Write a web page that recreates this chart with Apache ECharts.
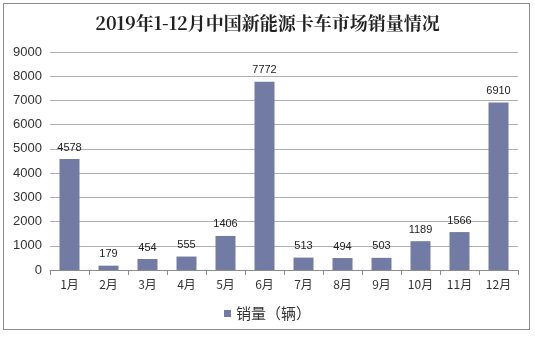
<!DOCTYPE html>
<html><head><meta charset="utf-8">
<script src="https://cdn.jsdelivr.net/npm/echarts@6/dist/echarts.min.js"></script>
<style>html,body{margin:0;padding:0;background:#fff}#c{width:535px;height:337px}
#frame{position:absolute;left:3px;top:3px;width:527px;height:327px;border:1px solid #8c8c8c;box-sizing:border-box;pointer-events:none}</style>
</head><body><div id="c"></div><div id="frame"></div>
<script>
const categories = ['1月','2月','3月','4月','5月','6月','7月','8月','9月','10月','11月','12月'];
const sales = [4578,179,454,555,1406,7772,513,494,503,1189,1566,6910];
const seriesName = '销量（辆）';
const chart = echarts.init(document.getElementById('c'));
chart.setOption({
  animation:false,
  title:{text:'2019年1-12月中国新能源卡车市场销量情况',left:'center',top:9,
    textStyle:{fontFamily:'Noto Serif CJK SC, Noto Sans CJK SC, serif',fontSize:18,fontWeight:'bold',color:'#222'}},
  grid:{left:50,right:17,top:52,bottom:67},
  legend:{bottom:11,left:'center',itemWidth:7,itemHeight:7,icon:'rect',itemGap:4,
    textStyle:{fontSize:15,color:'#333',fontFamily:'Noto Sans CJK SC'},data:[seriesName]},
  xAxis:{type:'category',data:categories,
    axisLine:{lineStyle:{color:'#8c8c8c'}},
    axisTick:{show:true,length:5,lineStyle:{color:'#8c8c8c'}},
    axisLabel:{fontSize:12,color:'#333',margin:8,fontFamily:'Noto Sans CJK SC'}},
  yAxis:{type:'value',min:0,max:9000,interval:1000,
    axisLine:{show:false},axisTick:{show:false},
    splitLine:{lineStyle:{color:'#b0b0b0'}},
    axisLabel:{fontSize:13,color:'#333',margin:8,fontFamily:'Liberation Sans, Arial',formatter:v=>String(v)}},
  series:[{name:seriesName,type:'bar',data:sales,barWidth:20,
    itemStyle:{color:'#717ba3'},
    label:{show:true,position:'top',fontSize:11,color:'#222',distance:6,fontFamily:'Liberation Sans, Arial'}}]
});
</script></body></html>
